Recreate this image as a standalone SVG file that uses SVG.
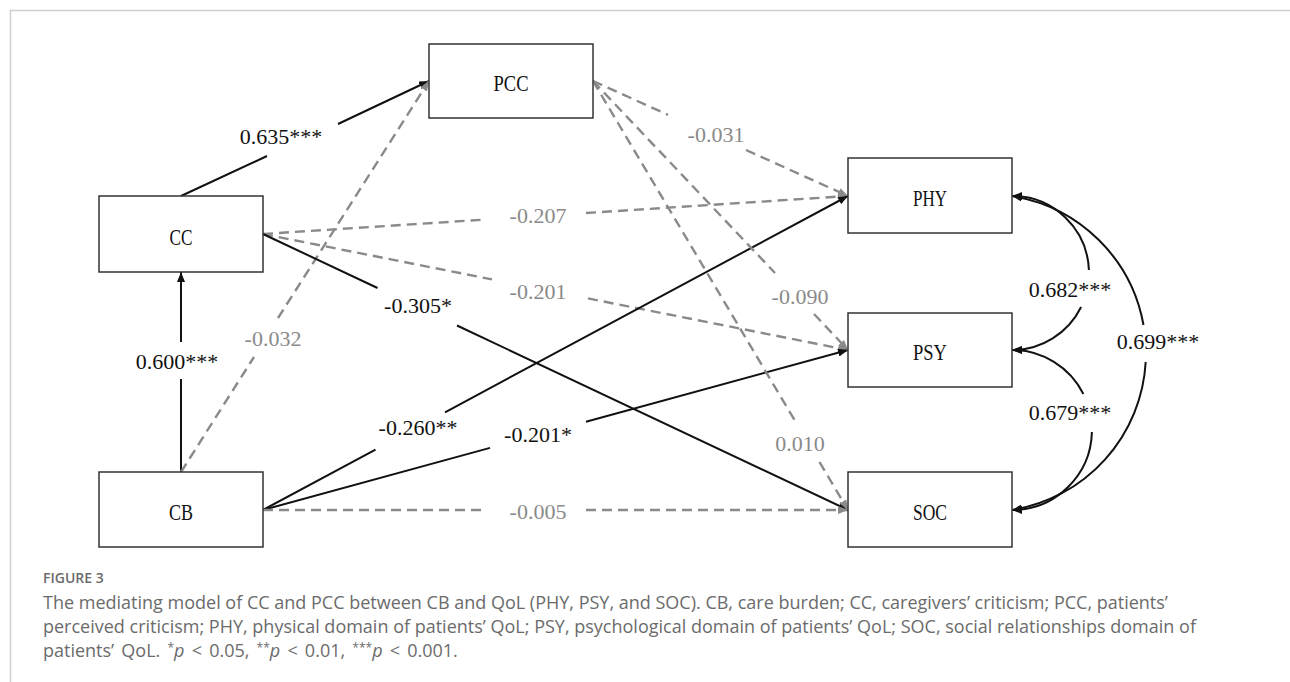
<svg xmlns="http://www.w3.org/2000/svg" width="1290" height="682" viewBox="0 0 1290 682">
<defs>
<style>
.node rect{fill:#fff;stroke:#333;stroke-width:1.5}
.node text{font-family:"Liberation Serif","Times New Roman",serif;font-size:24px;fill:#111;text-anchor:middle}
.s{fill:none;stroke:#111;stroke-width:2}
.d{fill:none;stroke:#8a8a8a;stroke-width:2.4;stroke-dasharray:10 6}
.c{fill:none;stroke:#111;stroke-width:2}
.lb{font-family:"Liberation Serif","Times New Roman",serif;font-size:22px;text-anchor:middle;fill:#111}
.lg{font-family:"Liberation Serif","Times New Roman",serif;font-size:22px;text-anchor:middle;fill:#8a8a8a}
.cap{font-family:"Open Sans","Noto Sans",sans-serif;font-size:18px;fill:#6b6b6b}
.fig{font-family:"Open Sans","Noto Sans",sans-serif;font-size:14px;font-weight:600;fill:#6b6b6b}
</style>
<marker id="ab" viewBox="0 0 10 8" refX="10" refY="4" markerWidth="10" markerHeight="8" markerUnits="userSpaceOnUse" orient="auto-start-reverse"><path d="M0,0 L10,4 L0,8 z" fill="#111"/></marker>
<marker id="ag" viewBox="0 0 10 8" refX="10" refY="4" markerWidth="10" markerHeight="8" markerUnits="userSpaceOnUse" orient="auto-start-reverse"><path d="M0,0 L10,4 L0,8 z" fill="#8a8a8a"/></marker>
</defs>
<rect width="1290" height="682" fill="#fff"/>
<path d="M10.5,682 L10.5,10.5 L1290,10.5" fill="none" stroke="#cfcfcf" stroke-width="1.5"/>

<g id="connectors">
<path class="s" d="M181,472 L181,379 M181,342 L181,272" marker-end="url(#ab)"/>
<path class="s" d="M181,196 L267,156 M338,124 L429,81" marker-end="url(#ab)"/>
<path class="d" d="M181,472 L254,357 M278,318 L429,81" marker-end="url(#ag)"/>
<path class="d" d="M263,234 L486,219.5 M586,213 L848,196" marker-end="url(#ag)"/>
<path class="d" d="M263,234 L492,279.4 M588,298.4 L848,350" marker-end="url(#ag)"/>
<path class="s" d="M263,234 L377.5,288 M457,325.5 L848,510" marker-end="url(#ab)"/>
<path class="s" d="M263,510 L375.5,449.6 M445,412.3 L848,196" marker-end="url(#ab)"/>
<path class="s" d="M263,510 L490,447.9 M586,421.7 L848,350" marker-end="url(#ab)"/>
<path class="d" d="M263,510 L486,510 M586,510 L848,510" marker-end="url(#ag)"/>
<path class="d" d="M593,81 L668,114.8 M746,150 L848,196" marker-end="url(#ag)"/>
<path class="d" d="M593,81 L775,273 M814,314 L848,350" marker-end="url(#ag)"/>
<path class="d" d="M593,81 L796.9,424 M819.5,462 L848,510" marker-end="url(#ag)"/>
<path class="c" d="M1012,196 A77,77 0 0 1 1088.9,270 M1081.1,307 A77,77 0 0 1 1012,350" marker-start="url(#ab)" marker-end="url(#ab)"/>
<path class="c" d="M1012,350 A80,80 0 0 1 1083.4,394 M1091.9,432 A80,80 0 0 1 1012,510" marker-start="url(#ab)" marker-end="url(#ab)"/>
<path class="c" d="M1012,196 A159,159 0 0 1 1143.5,325 M1145.7,362 A159,159 0 0 1 1012,510" marker-start="url(#ab)" marker-end="url(#ab)"/>

<text class="lb" x="281" y="144">0.635***</text>
<text class="lb" x="177" y="369">0.600***</text>
<text class="lg" x="273" y="346">-0.032</text>
<text class="lg" x="538" y="223">-0.207</text>
<text class="lg" x="538" y="299">-0.201</text>
<text class="lb" x="418" y="313">-0.305*</text>
<text class="lb" x="418" y="435">-0.260**</text>
<text class="lb" x="538" y="442">-0.201*</text>
<text class="lg" x="538" y="519">-0.005</text>
<text class="lg" x="716" y="142">-0.031</text>
<text class="lg" x="800" y="304">-0.090</text>
<text class="lg" x="800" y="451">0.010</text>
<text class="lb" x="1070" y="297">0.682***</text>
<text class="lb" x="1070" y="420">0.679***</text>
<text class="lb" x="1158" y="349">0.699***</text>
</g>

<g id="PCC" class="node"><rect x="429" y="44" width="164" height="74"/><text x="511" y="91" textLength="35" lengthAdjust="spacingAndGlyphs">PCC</text></g>
<g id="CC" class="node"><rect x="99" y="196" width="164" height="76"/><text x="181" y="245" textLength="23" lengthAdjust="spacingAndGlyphs">CC</text></g>
<g id="CB" class="node"><rect x="99" y="472" width="164" height="75"/><text x="181" y="520" textLength="24" lengthAdjust="spacingAndGlyphs">CB</text></g>
<g id="PHY" class="node"><rect x="848" y="158" width="164" height="75"/><text x="930" y="206" textLength="34" lengthAdjust="spacingAndGlyphs">PHY</text></g>
<g id="PSY" class="node"><rect x="848" y="313" width="164" height="74"/><text x="930" y="360" textLength="34" lengthAdjust="spacingAndGlyphs">PSY</text></g>
<g id="SOC" class="node"><rect x="848" y="472" width="164" height="75"/><text x="930" y="520" textLength="34" lengthAdjust="spacingAndGlyphs">SOC</text></g>

<g id="caption">
<text class="fig" x="43" y="583">FIGURE 3</text>
<text class="cap" x="43" y="609">The mediating model of CC and PCC between CB and QoL (PHY, PSY, and SOC). CB, care burden; CC, caregivers’ criticism; PCC, patients’</text>
<text class="cap" x="43" y="633">perceived criticism; PHY, physical domain of patients’ QoL; PSY, psychological domain of patients’ QoL; SOC, social relationships domain of</text>
<text class="cap" x="43" y="657" word-spacing="2.5">patients’ QoL. <tspan font-size="12" dy="-5">*</tspan><tspan font-style="italic" dy="5">p</tspan> &lt; 0.05, <tspan font-size="12" dy="-5">**</tspan><tspan font-style="italic" dy="5">p</tspan> &lt; 0.01, <tspan font-size="12" dy="-5">***</tspan><tspan font-style="italic" dy="5">p</tspan> &lt; 0.001.</text>
</g>
</svg>
